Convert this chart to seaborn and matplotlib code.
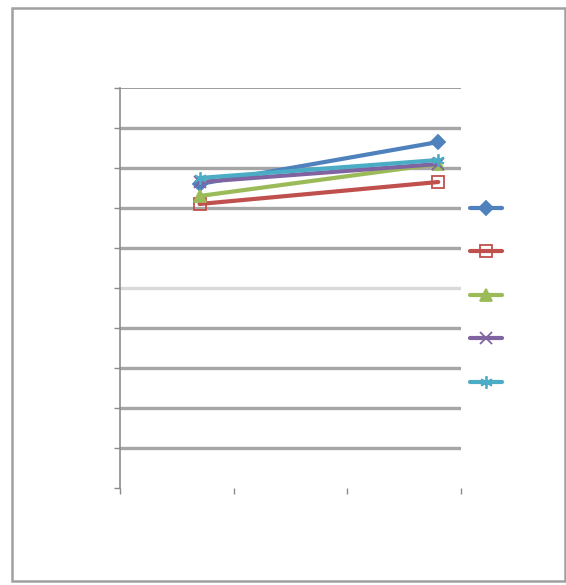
import matplotlib
matplotlib.use("Agg")
import matplotlib.pyplot as plt
import seaborn as sns
import pandas as pd
from matplotlib.lines import Line2D

# data
x_values = [0.7, 2.8]
series_names = ["S1", "S2", "S3", "S4", "S5"]
s1 = [7.6, 8.65]
s2 = [7.1, 7.65]
s3 = [7.3, 8.1]
s4 = [7.65, 8.1]
s5 = [7.75, 8.2]
y_ticks = [0, 1, 2, 3, 4, 5, 6, 7, 8, 9, 10]
x_ticks = [0, 1, 2, 3]

colors = ["#4F81BD", "#C0504D", "#9BBB59", "#8064A2", "#4BACC6"]
markers = ["D", "s", "^", "x", (6, 2, 0)]

rows = []
for name, vals in zip(series_names, [s1, s2, s3, s4, s5]):
    for xv, yv in zip(x_values, vals):
        rows.append({"x": xv, "y": yv, "series": name})
df = pd.DataFrame(rows)

sns.set_theme(style="white")
fig = plt.figure(figsize=(5.66, 5.85), dpi=100)
ax = fig.add_axes([120/566, (585-488)/585, (461-120)/566, 400/585])

LW = 3.0
sns.lineplot(data=df, x="x", y="y", hue="series", palette=colors,
             legend=False, ax=ax, linewidth=LW, sort=False)

for line, m, c in zip(ax.lines, markers, colors):
    line.set_marker(m)
    line.set_markersize(9 if m != "D" else 7.5)
    line.set_markeredgecolor(c)
    line.set_markeredgewidth(1.3)
    if m == "s":
        line.set_markerfacecolor("none")
    else:
        line.set_markerfacecolor(c)

ax.set_xlim(0, 3)
ax.set_ylim(0, 10)
ax.set_xticks(x_ticks)
ax.set_yticks(y_ticks)
ax.set_xticklabels([])
ax.set_yticklabels([])
ax.set_xlabel("")
ax.set_ylabel("")
ax.grid(axis="y", color="#A6A6A6", linewidth=2.4)
ax.set_axisbelow(True)
gl = ax.get_ygridlines()
gl[0].set_visible(False)
gl[5].set_color("#D9D9D9")
gl[10].set_linewidth(1.2)
gl[10].set_color("#8C8C8C")
for s in ["top", "right", "bottom"]:
    ax.spines[s].set_visible(False)
ax.spines["left"].set_color("#8C8C8C")
ax.spines["left"].set_linewidth(1.2)
ax.tick_params(axis="both", which="major", direction="out", length=4,
               color="#8C8C8C", width=1, left=True, bottom=True)

handles = []
for m, c in zip(markers, colors):
    handles.append(Line2D([0], [0], color=c, linewidth=LW, marker=m,
                          markersize=9 if m != "D" else 7.5,
                          markerfacecolor="none" if m == "s" else c,
                          markeredgecolor=c, markeredgewidth=1.3))
leg = fig.legend(handles, [""] * 5, loc="upper left",
                 bbox_to_anchor=(460/566, 1 - 192/585), frameon=False,
                 fontsize=10, handlelength=2.3, labelspacing=2.12,
                 handletextpad=0.0, borderpad=0.2)

# outer chart frame
frame = plt.Rectangle((12/566, 4/585), (565-12)/566, (579-6)/585,
                      transform=fig.transFigure, fill=False,
                      edgecolor="#A0A0A0", linewidth=1.8)
fig.patches.append(frame)

fig.savefig("out.png", dpi=100)
